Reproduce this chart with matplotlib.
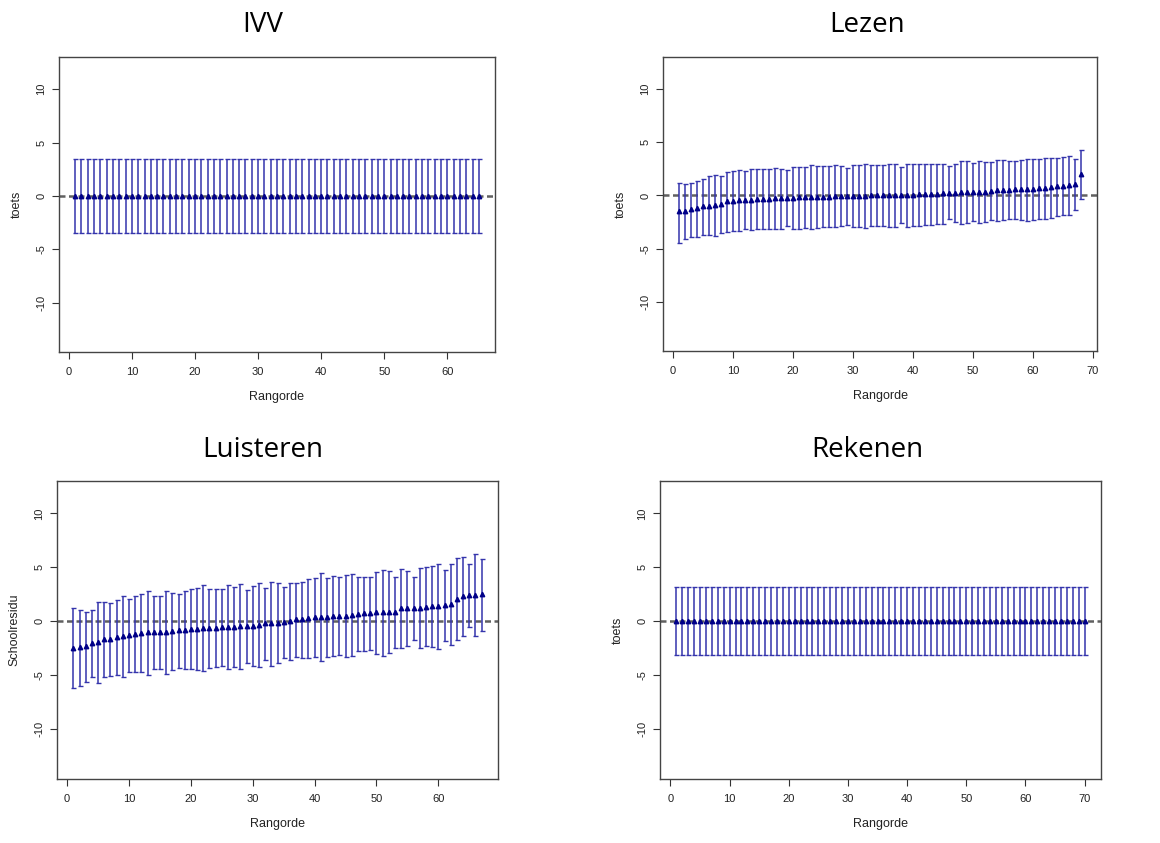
import matplotlib
matplotlib.use("Agg")
import matplotlib.pyplot as plt
import numpy as np

# ---- data ----
ivv_n = 65
ivv_mid = [0.0] * ivv_n
ivv_half = 3.5

rek_n = 70
rek_mid = [0.0] * rek_n
rek_half = 3.15

lezen_mid = [-1.5, -1.45, -1.25, -1.2, -1.0, -0.95, -0.9, -0.8, -0.55, -0.5,
             -0.45, -0.4, -0.38, -0.3, -0.3, -0.3, -0.25, -0.22, -0.2, -0.2,
             -0.18, -0.15, -0.12, -0.12, -0.1, -0.1, -0.08, -0.06, -0.05, -0.04,
             -0.03, -0.02, 0.0, 0.0, 0.02, 0.03, 0.04, 0.05, 0.06, 0.08,
             0.1, 0.12, 0.15, 0.17, 0.2, 0.22, 0.25, 0.28, 0.3, 0.32,
             0.33, 0.35, 0.4, 0.5, 0.52, 0.55, 0.57, 0.6, 0.62, 0.65,
             0.68, 0.72, 0.78, 0.85, 0.9, 0.95, 1.05, 2.0]
lezen_hi = [1.19, 1.1, 1.2, 1.37, 1.56, 1.8, 1.94, 1.84, 2.2, 2.3,
            2.4, 2.3, 2.45, 2.5, 2.5, 2.47, 2.6, 2.53, 2.38, 2.7,
            2.66, 2.7, 2.85, 2.8, 2.78, 2.75, 2.85, 2.75, 2.6, 2.9,
            2.88, 2.97, 2.88, 2.88, 2.88, 2.97, 2.94, 2.7, 2.97, 2.94,
            2.94, 2.97, 3.0, 2.97, 2.94, 2.75, 3.0, 3.25, 3.25, 3.03,
            3.25, 3.15, 3.12, 3.34, 3.34, 3.28, 3.28, 3.34, 3.44, 3.4,
            3.44, 3.5, 3.56, 3.56, 3.62, 3.72, 3.44, 4.28]
lezen_lo = [-4.44, -4.06, -3.87, -3.87, -3.69, -3.75, -3.81, -3.56, -3.4, -3.3,
            -3.37, -3.12, -3.25, -3.19, -3.12, -3.12, -3.1, -3.1, -2.88, -3.12,
            -3.12, -3.03, -3.12, -3.03, -2.97, -2.97, -3.0, -2.88, -2.75, -2.94,
            -2.94, -3.06, -2.9, -2.9, -2.9, -3.0, -2.94, -2.62, -2.94, -2.88,
            -2.84, -2.81, -2.75, -2.72, -2.66, -2.25, -2.5, -2.69, -2.62, -2.44,
            -2.62, -2.5, -2.31, -2.37, -2.31, -2.25, -2.25, -2.31, -2.37, -2.31,
            -2.25, -2.19, -2.12, -1.94, -1.87, -1.81, -1.37, -0.37]

luis_mid = [-2.47, -2.4, -2.3, -2.0, -1.9, -1.67, -1.64, -1.48, -1.36, -1.23,
            -1.14, -1.08, -1.02, -0.99, -0.99, -0.96, -0.9, -0.8, -0.77, -0.68,
            -0.68, -0.65, -0.65, -0.62, -0.52, -0.52, -0.49, -0.43, -0.43, -0.43,
            -0.31, -0.15, -0.15, -0.12, -0.06, 0.06, 0.19, 0.19, 0.31, 0.37,
            0.4, 0.43, 0.49, 0.49, 0.52, 0.59, 0.71, 0.77, 0.77, 0.83,
            0.83, 0.86, 0.86, 1.27, 1.27, 1.27, 1.27, 1.36, 1.39, 1.45,
            1.51, 1.6, 2.1, 2.31, 2.4, 2.47, 2.5]
luis_hi = [1.2, 1.02, 0.9, 1.02, 1.82, 1.76, 1.67, 1.98, 2.31, 2.1,
           2.35, 2.5, 2.78, 2.35, 2.38, 2.78, 2.65, 2.56, 2.81, 3.0,
           3.09, 3.33, 3.02, 2.96, 3.0, 3.4, 3.18, 3.49, 2.93, 3.24,
           3.52, 3.12, 3.64, 3.55, 3.21, 3.58, 3.58, 3.64, 3.92, 3.98,
           4.44, 4.04, 4.2, 4.07, 4.29, 4.35, 4.14, 4.14, 4.07, 4.54,
           4.78, 4.63, 4.1, 4.88, 4.63, 4.14, 4.9, 5.0, 5.09, 5.34,
           4.75, 5.31, 5.9, 5.93, 5.31, 6.2, 5.77]
luis_lo = [-6.2, -5.99, -5.59, -5.12, -5.74, -5.15, -5.03, -4.94, -5.12, -4.69,
           -4.72, -4.69, -5.0, -4.38, -4.41, -4.85, -4.54, -4.29, -4.41, -4.41,
           -4.5, -4.63, -4.35, -4.2, -4.17, -4.41, -4.2, -4.41, -3.89, -4.1,
           -4.23, -3.61, -4.1, -3.89, -3.43, -3.55, -3.27, -3.36, -3.43, -3.27,
           -3.7, -3.27, -3.24, -3.15, -3.27, -3.24, -2.72, -2.72, -2.62, -2.99,
           -3.21, -2.93, -2.44, -2.5, -2.28, -1.7, -2.44, -2.31, -2.38, -2.53,
           -1.85, -2.22, -1.76, -1.39, -0.52, -1.39, -0.86]

titles = ["IVV", "Lezen", "Luisteren", "Rekenen"]
ylabels = ["toets", "toets", "Schoolresidu", "toets"]

BAR = "#3434ac"
PT = "#000088"

plt.rcParams["font.family"] = ["Liberation Sans", "DejaVu Sans"]
plt.rcParams["axes.unicode_minus"] = False

fig = plt.figure(figsize=(11.6, 8.43), dpi=100)

# axes boxes in figure pixels (left, top, right, bottom)
boxes = [(59, 57, 495, 352), (663, 57, 1097, 351),
         (57, 481, 498, 779), (660, 481, 1101, 779)]
title_xy = [(263, 25), (867, 25), (263, 450), (867, 450)]


def make_axes(box):
    l, t, r, b = box
    return fig.add_axes([l / 1160, 1 - b / 843, (r - l) / 1160, (b - t) / 843])


def panel(ax, mid, lo, hi, xmax, ylabel):
    mid = np.asarray(mid, dtype=float)
    lo = np.asarray(lo, dtype=float)
    hi = np.asarray(hi, dtype=float)
    x = np.arange(1, len(mid) + 1)
    ax.axhline(0, color="#606060", lw=1.8, ls=(0, (2.4, 1.4)), zorder=1)
    ax.errorbar(x, mid, yerr=[mid - lo, hi - mid], fmt="none",
                ecolor=BAR, elinewidth=1.1, capsize=1.8, capthick=1.0, zorder=2)
    ax.plot(x, mid, "^", color=PT, ms=3.2, zorder=3)
    n = len(mid)
    pad = (n - 1) * 0.04
    ax.set_xlim(1 - pad, n + pad)
    ax.set_ylim(-14.6, 13.0)
    ax.set_xticks(np.arange(0, xmax + 1, 10))
    ax.set_yticks([-10, -5, 0, 5, 10])
    ax.tick_params(direction="out", length=5, width=0.8, colors="#333333",
                   labelsize=8, labelcolor="#222222")
    ax.tick_params(axis="x", pad=6)
    ax.tick_params(axis="y", pad=4)
    for lab in ax.get_yticklabels():
        lab.set_rotation(90)
        lab.set_va("center")
    for s in ax.spines.values():
        s.set_color("#444444")
        s.set_linewidth(1.0)
    ax.set_xlabel("Rangorde", fontsize=9, color="#222222", labelpad=10)
    ax.set_ylabel(ylabel, fontsize=9, color="#222222", labelpad=10)


ax1 = make_axes(boxes[0])
panel(ax1, ivv_mid, [m - ivv_half for m in ivv_mid],
      [m + ivv_half for m in ivv_mid], 60, ylabels[0])
ax2 = make_axes(boxes[1])
panel(ax2, lezen_mid, lezen_lo, lezen_hi, 70, ylabels[1])
ax3 = make_axes(boxes[2])
panel(ax3, luis_mid, luis_lo, luis_hi, 60, ylabels[2])
ax4 = make_axes(boxes[3])
panel(ax4, rek_mid, [m - rek_half for m in rek_mid],
      [m + rek_half for m in rek_mid], 70, ylabels[3])

for (tx, ty), t in zip(title_xy, titles):
    fig.text(tx / 1160, 1 - ty / 843, t, ha="center", va="center",
             fontsize=20, family=["Open Sans", "DejaVu Sans"], color="black")

fig.savefig("out.png", dpi=100, facecolor="white")
